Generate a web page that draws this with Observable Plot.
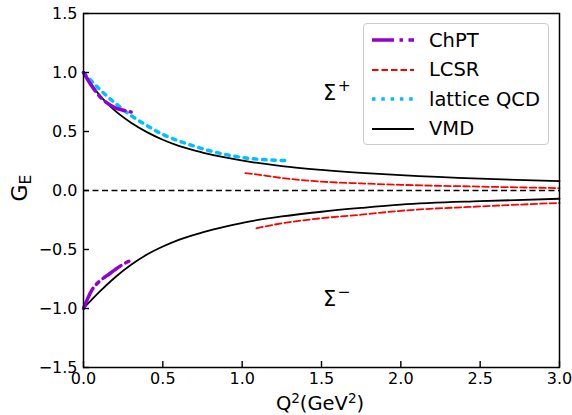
<!DOCTYPE html>
<html><head><meta charset="utf-8">
<script src="https://cdn.jsdelivr.net/npm/d3@7"></script>
<script src="https://cdn.jsdelivr.net/npm/@observablehq/plot@0.6"></script>
<style>
body{margin:0;background:#fff;font-family:"DejaVu Sans",sans-serif;}
#wrap{position:relative;width:572px;height:415px;}
#legend{position:absolute;left:363px;top:23px;width:186px;height:122px;box-sizing:border-box;border:1px solid #cccccc;border-radius:4px;background:rgba(255,255,255,0.8);font-family:"DejaVu Sans";font-size:19.5px;color:#000;}
.row{position:absolute;left:0;height:24px;display:flex;align-items:center;}
.row svg{margin-left:8px;margin-right:15px;}
</style>
</head><body><div id="wrap"></div>
<script>
// ---- data ----
const vmdPlusQ2 = [0, 0.1, 0.2, 0.3, 0.4, 0.5, 0.6, 0.75, 0.9, 1.05, 1.25, 1.5, 1.75, 2.0, 2.5, 3.0];
const vmdPlusG  = [1.0, 0.81, 0.675, 0.575, 0.495, 0.43, 0.378, 0.322, 0.278, 0.243, 0.207, 0.175, 0.15, 0.13, 0.10, 0.08];
const vmdMinusQ2 = [0, 0.1, 0.2, 0.3, 0.4, 0.5, 0.6, 0.75, 0.9, 1.05, 1.25, 1.5, 1.75, 2.0, 2.5, 3.0];
const vmdMinusG  = [-1.0, -0.86, -0.735, -0.63, -0.543, -0.475, -0.418, -0.355, -0.305, -0.262, -0.22, -0.18, -0.148, -0.12, -0.09, -0.07];

const chptPlusQ2 = [0, 0.05, 0.1, 0.15, 0.2, 0.25, 0.3];
const chptPlusG  = [1.0, 0.89, 0.80, 0.74, 0.70, 0.68, 0.665];
const chptMinusQ2 = [0, 0.05, 0.1, 0.15, 0.2, 0.25, 0.3];
const chptMinusG  = [-1.0, -0.85, -0.77, -0.72, -0.67, -0.625, -0.59];

const latticeQ2 = [0, 0.1, 0.2, 0.3, 0.4, 0.5, 0.6, 0.7, 0.8, 0.9, 1.0, 1.1, 1.2, 1.3];
const latticeG  = [1.0, 0.86, 0.74, 0.635, 0.55, 0.475, 0.42, 0.375, 0.335, 0.303, 0.28, 0.265, 0.257, 0.252];

const lcsrPlusQ2 = [1.02, 1.1, 1.2, 1.3, 1.5, 1.75, 2.0, 2.5, 3.0];
const lcsrPlusG  = [0.148, 0.135, 0.115, 0.098, 0.075, 0.06, 0.048, 0.033, 0.02];
const lcsrMinusQ2 = [1.09, 1.2, 1.3, 1.5, 1.75, 2.0, 2.5, 3.0];
const lcsrMinusG  = [-0.32, -0.29, -0.268, -0.235, -0.205, -0.172, -0.135, -0.105];

const xTicks = [0, 0.5, 1.0, 1.5, 2.0, 2.5, 3.0];
const yTicks = [-1.5, -1.0, -0.5, 0, 0.5, 1.0, 1.5];
const zeroLine = [0];

const annotations = [
  {x: 1.513, y: 0.826, base: "Σ", sup: "+"},
  {x: 1.513, y: -0.915, base: "Σ", sup: "−"}
];

const legendItems = [
  {label: "ChPT", color: "#9400d3", width: 3.5, dash: "22,5.5,3.5,5.5"},
  {label: "LCSR", color: "#ff0000", width: 1.8, dash: "6.5,3"},
  {label: "lattice QCD", color: "#00bfff", width: 3.5, dash: "3.5,5.8"},
  {label: "VMD", color: "#000000", width: 1.8, dash: null}
];

// ---- build ----
const W = 572, H = 415, mL = 83, mR = 13, mT = 13, mB = 48, tickLen = 6;
const innerW = W - mL - mR, innerH = H - mT - mB;
const zip = (xs, ys) => xs.map((x, i) => ({x, y: ys[i]}));
const fmt = d3.format(".1f");

const plot = Plot.plot({
  width: W, height: H,
  marginLeft: mL, marginRight: mR, marginTop: mT, marginBottom: mB,
  style: {fontFamily: "DejaVu Sans", background: "#fff"},
  x: {domain: [0, 3], label: null},
  y: {domain: [-1.5, 1.5], label: null},
  marks: [
    Plot.ruleY(zeroLine, {stroke: "black", strokeWidth: 1.6, strokeDasharray: "6,3.5"}),
    Plot.line(zip(vmdPlusQ2, vmdPlusG), {x: "x", y: "y", stroke: "black", strokeWidth: 1.8, curve: "monotone-x"}),
    Plot.line(zip(vmdMinusQ2, vmdMinusG), {x: "x", y: "y", stroke: "black", strokeWidth: 1.8, curve: "monotone-x"}),
    Plot.line(zip(lcsrPlusQ2, lcsrPlusG), {x: "x", y: "y", stroke: "#ff0000", strokeWidth: 1.8, strokeDasharray: "6.5,3", curve: "monotone-x"}),
    Plot.line(zip(lcsrMinusQ2, lcsrMinusG), {x: "x", y: "y", stroke: "#ff0000", strokeWidth: 1.8, strokeDasharray: "6.5,3", curve: "monotone-x"}),
    Plot.line(zip(latticeQ2, latticeG), {x: "x", y: "y", stroke: "#00bfff", strokeWidth: 3.5, strokeDasharray: "3.5,5.8", curve: "monotone-x"}),
    Plot.line(zip(chptPlusQ2, chptPlusG), {x: "x", y: "y", stroke: "#9400d3", strokeWidth: 3.5, strokeDasharray: "22,5.5,3.5,5.5", curve: "monotone-x"}),
    Plot.line(zip(chptMinusQ2, chptMinusG), {x: "x", y: "y", stroke: "#9400d3", strokeWidth: 3.5, strokeDasharray: "22,5.5,3.5,5.5", curve: "monotone-x"}),
    // inward ticks
    Plot.ruleX(xTicks, {x: d => d, insetTop: innerH - tickLen, stroke: "black", strokeWidth: 1.4}),
    Plot.ruleY(yTicks, {y: d => d, insetRight: innerW - tickLen, stroke: "black", strokeWidth: 1.4}),
    Plot.frame({stroke: "black", strokeWidth: 1.5}),
    Plot.axisX({ticks: xTicks, tickSize: 0, tickPadding: 5, tickFormat: fmt, fontSize: 16, label: null}),
    Plot.axisY({ticks: yTicks, tickSize: 0, tickPadding: 6, tickFormat: fmt, fontSize: 16, label: null})
  ]
});

const wrap = document.getElementById("wrap");
wrap.appendChild(plot);

const svg = d3.select(plot);
const sx = plot.scale("x"), sy = plot.scale("y");

// Σ annotations
for (const a of annotations) {
  const t = svg.append("text")
    .attr("x", sx.apply(a.x)).attr("y", sy.apply(a.y))
    .attr("dy", "0.36em")
    .attr("text-anchor", "start")
    .attr("font-family", "DejaVu Sans").attr("font-size", 21).attr("fill", "black");
  t.append("tspan").text(a.base);
  t.append("tspan").attr("font-size", 15.5).attr("dy", -9).attr("dx", 1.5).text(a.sup);
}

// x label Q²(GeV²)
const xl = svg.append("text")
  .attr("x", 320).attr("y", 410)
  .attr("text-anchor", "middle")
  .attr("font-family", "DejaVu Sans").attr("font-size", 19.5).attr("fill", "black");
xl.append("tspan").text("Q");
xl.append("tspan").attr("font-size", 13.5).attr("dy", -7.5).text("2");
xl.append("tspan").attr("dy", 7.5).text("(GeV");
xl.append("tspan").attr("font-size", 13.5).attr("dy", -7.5).text("2");
xl.append("tspan").attr("dy", 7.5).text(")");

// y label G_E
const yl = svg.append("text")
  .attr("transform", "translate(27,188) rotate(-90)")
  .attr("text-anchor", "middle")
  .attr("font-family", "DejaVu Sans").attr("font-size", 22).attr("fill", "black");
yl.append("tspan").text("G");
yl.append("tspan").attr("font-size", 15.5).attr("dy", 4).text("E");

// legend
const lg = document.createElement("div");
lg.id = "legend";
legendItems.forEach((it, i) => {
  const row = document.createElement("div");
  row.className = "row";
  row.style.top = (4 + i * 29.5) + "px";
  const ns = "http://www.w3.org/2000/svg";
  const s = document.createElementNS(ns, "svg");
  s.setAttribute("width", 42); s.setAttribute("height", 10);
  const l = document.createElementNS(ns, "line");
  l.setAttribute("x1", 0); l.setAttribute("x2", 42); l.setAttribute("y1", 5); l.setAttribute("y2", 5);
  l.setAttribute("stroke", it.color); l.setAttribute("stroke-width", it.width);
  if (it.dash) l.setAttribute("stroke-dasharray", it.dash);
  s.appendChild(l);
  row.appendChild(s);
  const sp = document.createElement("span");
  sp.textContent = it.label;
  row.appendChild(sp);
  lg.appendChild(row);
});
wrap.appendChild(lg);
</script>
</body></html>
